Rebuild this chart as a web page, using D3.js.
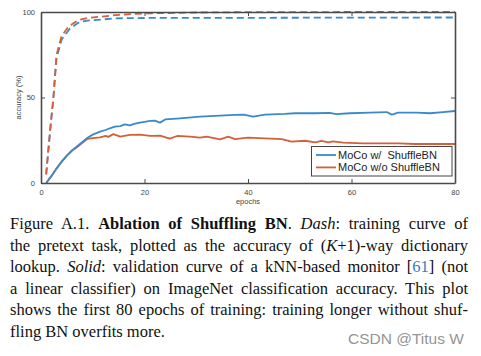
<!DOCTYPE html>
<html><head><meta charset="utf-8">
<script src="https://cdn.jsdelivr.net/npm/d3@7"></script>
<style>
html,body{margin:0;padding:0;background:#fff;}
body{width:481px;height:356px;position:relative;overflow:hidden;}
svg{position:absolute;left:0;top:0;}
.cap{position:absolute;left:10px;width:458px;font-family:"Liberation Serif","Times New Roman",serif;font-size:16.5px;line-height:21.6px;color:#111;white-space:nowrap;text-align:justify;text-align-last:justify;}
.cap.last{text-align-last:left;}
.wm{position:absolute;left:348px;top:330px;font-family:"Liberation Sans",Arial,sans-serif;font-size:15.5px;color:#959595;text-shadow:0 0 2px #fff,0 0 2px #fff;}
</style></head>
<body>
<script>
// ---- data ----
const xTicks = [0, 20, 40, 60, 80];
const yTicks = [0, 50, 100];
const seriesNames = ["MoCo w/  ShuffleBN", "MoCo w/o ShuffleBN"];

const withSolidEpochs = [1,2,3,4,5,6,7,8,9,10,11.4,12.5,13.3,14.3,15.3,16.2,17.2,18,19.1,20,21.1,22,23,24,26.9,30.7,34.6,37.5,39.4,41,43.3,47.1,49.1,52.9,55.8,57,59.7,63.6,66.8,67.8,69,72.6,75.2,77.7,80];
const withSolidAcc    = [0,4,8.5,12.5,16,19,21.5,24,26.5,28.3,30,31,32,33,33.3,34.3,33.7,34.6,35.3,35.8,36.3,36.5,35.3,37.2,37.8,38.8,39.4,39.8,39.9,38.8,40,40.4,40.8,40.8,41,40.3,40.8,41.1,41.5,40,41.1,41.1,40.8,41.5,42.1];

const withoutSolidEpochs = [1,2,3,4,5,6,7,8,9,10,11.4,12.5,13,14,15.3,17.2,19.1,21.1,23,24.9,26.3,28.8,30.7,32,34.6,36.2,37.5,40,43.3,46.5,48.4,51,53,54.2,55.5,56.4,58.4,62.3,69,72.3,80];
const withoutSolidAcc    = [0,4,8.5,12.5,16,19,21,23.5,25.8,26.3,26.7,27.5,27,28.6,27.1,28.1,28.3,27.5,27.7,25.9,27.5,27.1,26.5,27.1,25.5,27.1,25.7,26.5,26.1,25.7,24.2,24.7,23.8,24.7,23.8,24.3,23.6,23.2,23.2,22.8,22.8];

const withDashEpochs = [1,1.5,2,2.4,3,4,5.6,7.5,9,11.7,14.3,20,30,40,60,80];
const withDashAcc    = [5,22,38,50,73,84,90.4,94.3,95,95.6,96.3,96.5,96.6,96.6,96.7,96.8];

const withoutDashEpochs = [1,1.5,2,2.4,3,4,5.3,7.2,9,11.7,14.3,20,30,40,60,80];
const withoutDashAcc    = [5,22,38,50,75,86,91.4,95.3,96.5,97.3,98.2,99.2,99.7,99.9,100,100];

const colors = ["#3a8acb", "#d65f38"];

// ---- chart ----
const W = 481, H = 356;
const svg = d3.select("body").append("svg").attr("width", W).attr("height", H);
const x = d3.scaleLinear().domain([0, 80]).range([41, 455]);
const y = d3.scaleLinear().domain([0, 100]).range([183, 12]);
const axisColor = "#4a4a4a";
const tickFont = "'Liberation Sans', Arial, sans-serif";

svg.append("rect").attr("x", x(0)).attr("y", y(100)).attr("width", x(80)-x(0)).attr("height", y(0)-y(100))
  .attr("fill", "#fff");

const line = d3.line().x(d => x(d[0])).y(d => y(d[1]));
const zip = (a, b) => a.map((v, i) => [v, b[i]]);

const series = [
  {pts: zip(withDashEpochs, withDashAcc), c: colors[0], dash: "7,4"},
  {pts: zip(withoutDashEpochs, withoutDashAcc), c: colors[1], dash: "7,4"},
  {pts: zip(withoutSolidEpochs, withoutSolidAcc), c: colors[1], dash: null},
  {pts: zip(withSolidEpochs, withSolidAcc), c: colors[0], dash: null},
];
series.forEach(s => {
  svg.append("path").attr("d", line(s.pts)).attr("fill", "none")
    .attr("stroke", s.c).attr("stroke-width", 1.8)
    .attr("stroke-dasharray", s.dash).attr("stroke-linejoin", "round");
});

const axB = d3.axisBottom(x).tickValues(xTicks).tickSizeInner(-4).tickSizeOuter(0).tickPadding(7);
const axL = d3.axisLeft(y).tickValues(yTicks).tickSizeInner(-4).tickSizeOuter(0).tickPadding(6);
const axT = d3.axisTop(x).tickValues(xTicks).tickSizeInner(-4).tickSizeOuter(0).tickFormat("");
const axR = d3.axisRight(y).tickValues(yTicks).tickSizeInner(-4).tickSizeOuter(0).tickFormat("");
[[axB, `translate(0,${y(0)})`], [axL, `translate(${x(0)},0)`], [axT, `translate(0,${y(100)})`], [axR, `translate(${x(80)},0)`]]
.forEach(([a, t]) => {
  const g = svg.append("g").attr("transform", t).call(a);
  g.select(".domain").attr("stroke", axisColor).attr("stroke-width", 1.6);
  g.selectAll(".tick line").attr("stroke", axisColor).attr("stroke-width", 1);
  g.selectAll(".tick text").attr("fill", "#444").attr("font-size", 7.5).attr("font-family", tickFont);
});

svg.append("text").attr("x", (x(0)+x(80))/2).attr("y", 203.5).attr("text-anchor", "middle")
  .attr("font-size", 7.5).attr("font-family", tickFont).attr("fill", "#444").text("epochs");
svg.append("text").attr("transform", `translate(21,${(y(0)+y(100))/2}) rotate(-90)`).attr("text-anchor", "middle")
  .attr("font-size", 7.5).attr("font-family", tickFont).attr("fill", "#444").text("accuracy (%)");

const lg = svg.append("g");
lg.append("rect").attr("x", 311.5).attr("y", 146.5).attr("width", 140.5).attr("height", 29.5)
  .attr("fill", "#fff").attr("stroke", "#444").attr("stroke-width", 1);
seriesNames.forEach((n, i) => {
  const yy = 155 + i * 12.4;
  lg.append("line").attr("x1", 316).attr("x2", 336).attr("y1", yy).attr("y2", yy)
    .attr("stroke", colors[i]).attr("stroke-width", 1.8);
  lg.append("text").attr("x", 338).attr("y", yy + 4).attr("font-size", 11).attr("font-family", tickFont)
    .attr("fill", "#222").attr("xml:space", "preserve").style("white-space", "pre").text(n);
});
</script>
<div class="cap" style="top:213px">Figure A.1. <b>Ablation of Shuffling BN</b>. <i>Dash</i>: training curve of</div>
<div class="cap" style="top:234.6px">the pretext task, plotted as the accuracy of (<i>K</i>+1)-way dictionary</div>
<div class="cap" style="top:256.2px">lookup. <i>Solid</i>: validation curve of a kNN-based monitor [<span style="color:#2f7fc1">61</span>] (not</div>
<div class="cap" style="top:277.8px">a linear classifier) on ImageNet classification accuracy. This plot</div>
<div class="cap" style="top:299.4px">shows the first 80 epochs of training: training longer without shuf-</div>
<div class="cap last" style="top:321px">fling BN overfits more.</div>
<div class="wm">CSDN @Titus W</div>
</body></html>
